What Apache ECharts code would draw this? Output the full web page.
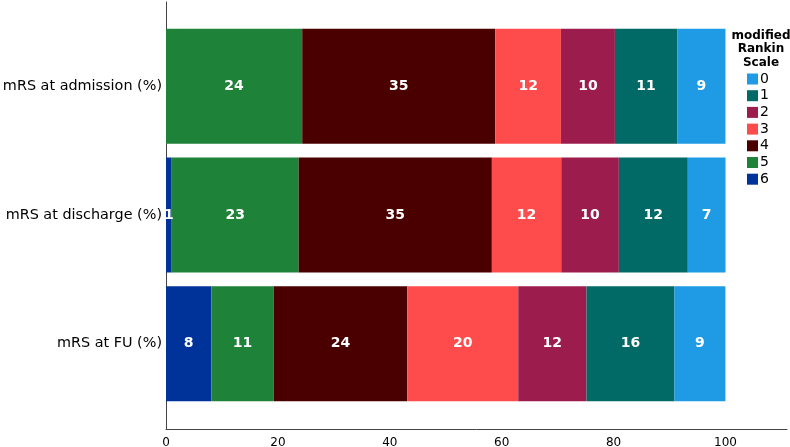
<!DOCTYPE html>
<html>
<head>
<meta charset="utf-8">
<script src="https://cdn.jsdelivr.net/npm/echarts@6/dist/echarts.min.js"></script>
<style>
html,body{margin:0;padding:0;background:#fff;}
#main{width:790px;height:447px;}
</style>
</head>
<body>
<div id="main"></div>
<script>
// categories, top to bottom
var categories = ['mRS at admission (%)', 'mRS at discharge (%)', 'mRS at FU (%)'];
// mRS score levels (legend order)
var levels = ['0', '1', '2', '3', '4', '5', '6'];
// percentages for each level, per category
var mrs6 = [0, 1.02, 8.11];
var mrs5 = [24.35, 22.69, 11.13];
var mrs4 = [34.52, 34.54, 23.89];
var mrs3 = [11.72, 12.40, 19.83];
var mrs2 = [9.65, 10.29, 12.20];
var mrs1 = [11.13, 12.33, 15.72];
var mrs0 = [8.63, 6.74, 9.11];
var xTicks = [0, 20, 40, 60, 80, 100];

var colors = {
    '0': '#1f9be5',
    '1': '#016966',
    '2': '#9b1c4d',
    '3': '#fe4c4c',
    '4': '#4b0000',
    '5': '#1e8239',
    '6': '#003399'
};

// stacking order from left to right
var stackOrder = [['6', mrs6], ['5', mrs5], ['4', mrs4], ['3', mrs3], ['2', mrs2], ['1', mrs1], ['0', mrs0]];

var series = stackOrder.map(function (s) {
    return {
        name: s[0],
        type: 'bar',
        stack: 'mrs',
        xAxisIndex: 1,
        yAxisIndex: 1,
        barWidth: 115,
        data: s[1],
        itemStyle: { color: colors[s[0]] },
        label: {
            show: true,
            position: 'inside',
            color: '#fff',
            fontFamily: 'DejaVu Sans',
            fontWeight: 'bold',
            fontSize: 14,
            formatter: function (p) {
                return p.value < 0.5 ? '' : String(Math.round(p.value));
            }
        }
    };
});

var myChart = echarts.init(document.getElementById('main'));

var option = {
    animation: false,
    title: {
        text: 'modified\nRankin\nScale',
        left: 756,
        top: 24,
        textAlign: 'center',
        textStyle: {
            fontFamily: 'DejaVu Sans',
            fontSize: 12,
            fontWeight: 'bold',
            color: '#000',
            lineHeight: 13.5
        }
    },
    legend: {
        orient: 'vertical',
        left: 742,
        top: 67,
        data: levels,
        itemWidth: 11,
        itemHeight: 11,
        itemGap: 2.7,
        icon: 'rect',
        textStyle: { fontFamily: 'DejaVu Sans', fontSize: 14, color: '#000', padding: [0, 0, 0, -3] },
        selectedMode: false
    },
    grid: [
        // frame with the axis lines
        { left: 166, right: 3, top: 2, bottom: 18, outerBoundsMode: 'none' },
        // bars
        { left: 166, right: 3, top: 22, bottom: 39, outerBoundsMode: 'none' }
    ],
    xAxis: [
        {
            gridIndex: 0,
            type: 'value',
            min: 0,
            max: 111,
            interval: 20,
            axisLine: { show: true, lineStyle: { color: '#444', width: 1 } },
            axisTick: { show: false },
            splitLine: { show: false },
            axisLabel: {
                showMaxLabel: false,
                margin: 8,
                fontFamily: 'DejaVu Sans',
                fontSize: 12,
                color: '#000',
                formatter: function (v) { return xTicks.indexOf(v) >= 0 ? String(v) : ''; }
            }
        },
        {
            gridIndex: 1,
            type: 'value',
            min: 0,
            max: 111,
            show: false
        }
    ],
    yAxis: [
        {
            gridIndex: 0,
            type: 'value',
            axisLine: { show: true, lineStyle: { color: '#444', width: 1 } },
            axisTick: { show: false },
            axisLabel: { show: false },
            splitLine: { show: false }
        },
        {
            gridIndex: 1,
            type: 'category',
            inverse: true,
            data: categories,
            axisLine: { show: false },
            axisTick: { show: false },
            axisLabel: {
                margin: 4,
                fontFamily: 'DejaVu Sans',
                fontSize: 14.4,
                color: '#000',
                padding: [6, 0, 0, 0]
            }
        }
    ],
    series: series
};

myChart.setOption(option);
</script>
</body>
</html>
